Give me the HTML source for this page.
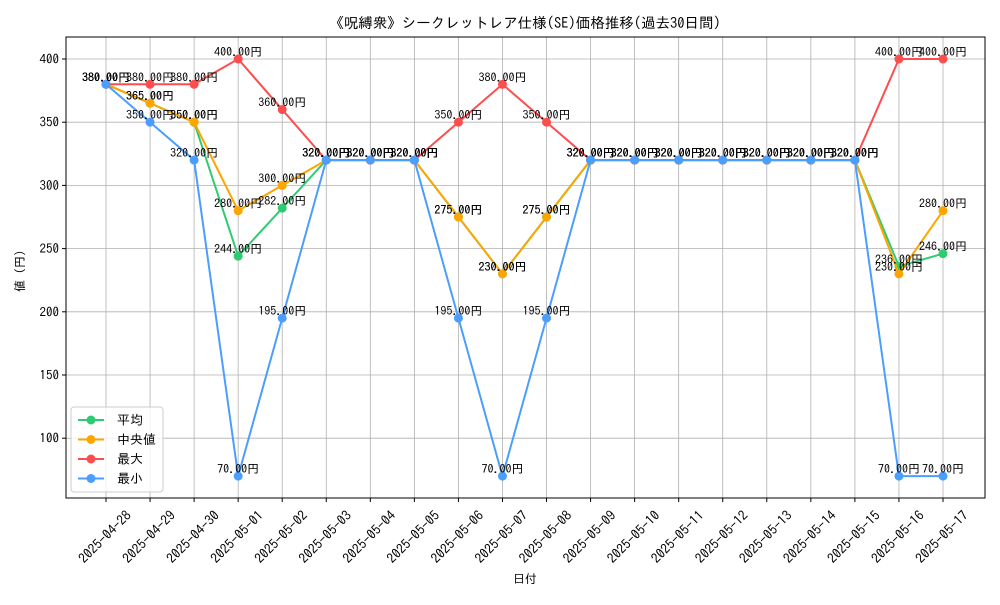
<!DOCTYPE html>
<html><head><meta charset="utf-8"><style>
body{margin:0;background:#fff}
svg{font-family:"IPAGothic","Liberation Sans","Noto Sans CJK JP",sans-serif}
</style></head><body>
<svg id="chart" width="1000" height="600" xmlns="http://www.w3.org/2000/svg">
<rect width="1000" height="600" fill="#fff"/>
<text x="525" y="28" text-anchor="middle" font-size="14.5">《呪縛衆》シークレットレア仕様(SE)価格推移(過去30日間)</text>
<g id="grid"></g><g id="axes"></g><g id="series"></g><g id="labels"></g>
<text x="525" y="583" text-anchor="middle" font-size="12">日付</text>
<text transform="translate(24,268) rotate(-90)" text-anchor="middle" font-size="12">値（円）</text>
<g id="legend">
<rect x="71" y="407" width="92" height="85" rx="3" fill="#fff" fill-opacity="0.8" stroke="#ccc"/>
</g>
</svg>
<script>
const dates=["2025-04-28","2025-04-29","2025-04-30","2025-05-01","2025-05-02","2025-05-03","2025-05-04","2025-05-05","2025-05-06","2025-05-07","2025-05-08","2025-05-09","2025-05-10","2025-05-11","2025-05-12","2025-05-13","2025-05-14","2025-05-15","2025-05-16","2025-05-17"];
const meanVals=[380,365,350,244,282,320,320,320,275,230,275,320,320,320,320,320,320,320,236,246];
const medianVals=[380,365,350,280,300,320,320,320,275,230,275,320,320,320,320,320,320,320,230,280];
const maxVals=[380,380,380,400,360,320,320,320,350,380,350,320,320,320,320,320,320,320,400,400];
const minVals=[380,350,320,70,195,320,320,320,195,70,195,320,320,320,320,320,320,320,70,70];
const yTicks=[100,150,200,250,300,350,400];
const seriesNames=["平均","中央値","最大","最小"];
const NS="http://www.w3.org/2000/svg";
const L=66,R=985,T=37,B=498;
const X=i=>106+i*(943-106)/(dates.length-1);
const Y=v=>59+(400-v)*(63.2/50);
function mk(tag,attrs,parent,txt){const e=document.createElementNS(NS,tag);for(const k in attrs)e.setAttribute(k,attrs[k]);if(txt!==undefined)e.textContent=txt;parent.appendChild(e);return e;}
const grid=document.getElementById('grid'),axes=document.getElementById('axes');
dates.forEach((d,i)=>{
  const g=mk('line',{x1:X(i),x2:X(i),y1:T,y2:B,stroke:'#b0b0b0','stroke-width':0.8},grid);
  
  
  mk('line',{x1:X(i),x2:X(i),y1:B,y2:B+4,stroke:'#000'},axes);
  const cx=X(i)-1,cy=B+39;
  const t=mk('text',{x:cx,y:cy+4.5,'text-anchor':'middle','font-size':13.5,transform:`rotate(-45 ${cx} ${cy})`},axes,d);
  
  
});
yTicks.forEach(v=>{
  const g=mk('line',{x1:L,x2:R,y1:Y(v),y2:Y(v),stroke:'#b0b0b0','stroke-width':0.8},grid);
  
  
  mk('line',{x1:L-4,x2:L,y1:Y(v),y2:Y(v),stroke:'#000'},axes);
  const t=mk('text',{x:L-7,y:Y(v)+4.5,'text-anchor':'end','font-size':13},axes,String(v));
  
  
});
const frame=mk('rect',{x:L,y:T,width:R-L,height:B-T,fill:'none',stroke:'#000','stroke-width':1},axes);


const all=[[meanVals,'#2ecc71','mean'],[medianVals,'#ffa500','median'],[maxVals,'#ff4d4d','max'],[minVals,'#4a9eff','min']];
const sg=document.getElementById('series'),lg=document.getElementById('labels'),leg=document.getElementById('legend');
all.forEach(([vals,c,n],k)=>{
  const p=mk('polyline',{points:vals.map((v,i)=>X(i)+','+Y(v)).join(' '),fill:'none',stroke:c,'stroke-width':2},sg);
  
  
  vals.forEach((v,i)=>{
    const ci=mk('circle',{cx:X(i),cy:Y(v),r:4.5,fill:c},sg);
    
    
    const t=mk('text',{x:X(i),y:Y(v)-3,'text-anchor':'middle','font-size':12},lg,v.toFixed(2)+'円');
    
    
  });
  const ly=420+k*19.5;
  mk('line',{x1:78,x2:104,y1:ly,y2:ly,stroke:c,'stroke-width':2},leg);
  mk('circle',{cx:91,cy:ly,r:4.5,fill:c},leg);
  const t=mk('text',{x:117,y:ly+4.5,'font-size':13},leg,seriesNames[k]);
  
  
});
</script>
</body></html>
